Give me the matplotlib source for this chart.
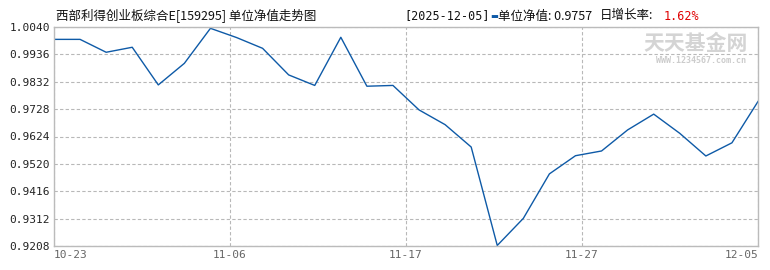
import matplotlib
matplotlib.use('Agg')
import matplotlib.pyplot as plt

plt.rcParams['font.family'] = ['Noto Sans CJK SC', 'DejaVu Sans']

# 单位净值 (28 个交易日)
nav = [0.9993, 0.9993, 0.9944, 0.9963, 0.9820, 0.9902, 1.0035, 1.0000,
       0.9959, 0.9858, 0.9818, 1.0001, 0.9815, 0.9818, 0.9725, 0.9669,
       0.9584, 0.9210, 0.9313, 0.9482, 0.9551, 0.9569, 0.9649, 0.9709,
       0.9636, 0.9550, 0.9600, 0.9757]
x_labels = ['10-23', '11-06', '11-17', '11-27', '12-05']
y_ticks = [0.9208, 0.9312, 0.9416, 0.9520, 0.9624, 0.9728, 0.9832, 0.9936, 1.0040]

fig = plt.figure(figsize=(7.7, 2.7), dpi=100)
ax = fig.add_axes([54/770, 24/270, 704/770, 219/270])

xs = list(range(len(nav)))
ax.plot(xs, nav, color='#0e5aa7', lw=1.0)

n = len(nav) - 1
ax.set_xlim(0, n)
ax.set_ylim(y_ticks[0], y_ticks[-1])
xt = [n * k / 4 for k in range(5)]
ax.set_xticks(xt)
ax.set_xticklabels(x_labels, family='DejaVu Sans Mono', fontsize=8, color='#666666')
ax.set_yticks(y_ticks)
ax.set_yticklabels(['%.4f' % v for v in y_ticks], family='DejaVu Sans Mono', fontsize=8, color='#222222')
ax.tick_params(length=0, pad=3)
xl = ax.get_xticklabels()
xl[0].set_ha('left')
xl[-1].set_ha('right')

ax.grid(True, ls=(0, (3, 2)), color='#b8b8b8', lw=0.8)
for s in ax.spines.values():
    s.set_color('#bbbbbb')
    s.set_linewidth(1.0)

# 标题
fig.text(56/770, 1 - 16/270, '西部利得创业板综合E[159295] 单位净值走势图', fontsize=9,
         va='center', ha='left', color='#111111')
fig.text(404/770, 1 - 16/270, '[2025-12-05]', fontsize=8.5, va='center', ha='left',
         family='DejaVu Sans Mono', color='#111111')
fig.text(490/770, 1 - 16/270, '▬', fontsize=6, va='center', ha='left', color='#0e5aa7',
         family='DejaVu Sans')
fig.text(498/770, 1 - 16/270, '单位净值: 0.9757', fontsize=9, va='center', ha='left', color='#111111')
fig.text(600/770, 1 - 16/270, '日增长率:', fontsize=9, va='center', ha='left', color='#111111')
fig.text(664/770, 1 - 16/270, '1.62%', fontsize=8.5, va='center', ha='left', color='#e00000',
         family='DejaVu Sans Mono')

# 水印
fig.text(748/770, 1 - 43/270, '天天基金网', fontsize=15, fontweight='bold', va='center',
         ha='right', color='#d4d4d4')
fig.text(746/770, 1 - 61/270, 'WWW.1234567.com.cn', fontsize=6, va='center', ha='right',
         color='#cccccc', family='DejaVu Sans Mono', fontweight='bold')

fig.savefig('out.png', dpi=100)
